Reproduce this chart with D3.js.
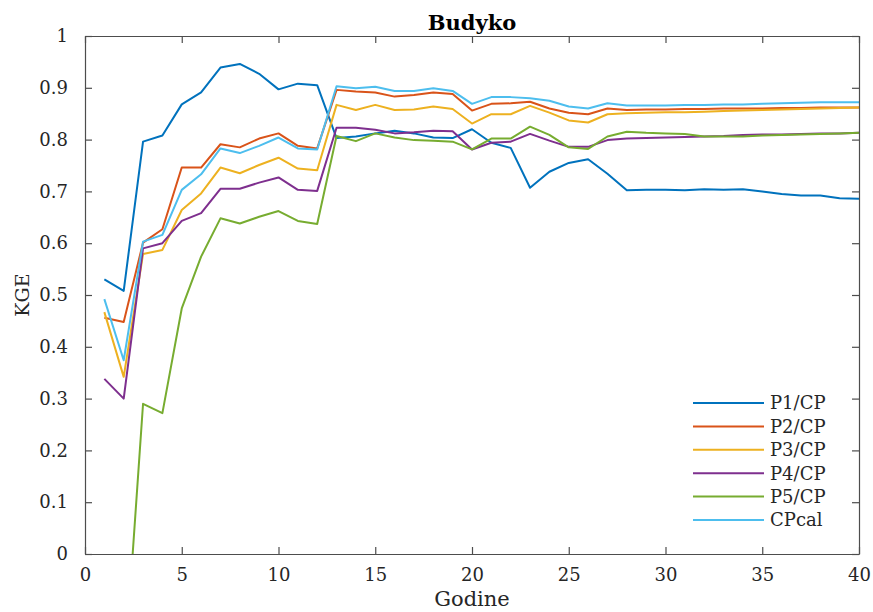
<!DOCTYPE html>
<html>
<head>
<meta charset="utf-8">
<script src="https://cdn.jsdelivr.net/npm/d3@7/dist/d3.min.js"></script>
<style>
  body { margin: 0; background: #fff; }
  svg { display: block; font-family: 'DejaVu Serif', serif; }
</style>
</head>
<body>
<div id="chart"></div>
<script>
'use strict';

// years (Godine) 1..40
const years = d3.range(1, 41);

const seriesNames = ['P1/CP', 'P2/CP', 'P3/CP', 'P4/CP', 'P5/CP', 'CPcal'];
const seriesColors = ['#0072BD', '#D95319', '#EDB120', '#7E2F8E', '#77AC30', '#4DBEEE'];

const p1 = [0.530, 0.508, 0.796, 0.808, 0.868, 0.891, 0.939, 0.946, 0.927, 0.897,
            0.908, 0.905, 0.803, 0.806, 0.812, 0.817, 0.812, 0.804, 0.803, 0.820,
            0.794, 0.784, 0.707, 0.738, 0.755, 0.762, 0.734, 0.702, 0.703, 0.703,
            0.702, 0.704, 0.703, 0.704, 0.700, 0.695, 0.692, 0.692, 0.687, 0.686];
const p2 = [0.456, 0.448, 0.601, 0.627, 0.746, 0.746, 0.791, 0.785, 0.802, 0.812,
            0.788, 0.783, 0.896, 0.893, 0.891, 0.883, 0.886, 0.891, 0.888, 0.856,
            0.869, 0.870, 0.873, 0.860, 0.852, 0.849, 0.860, 0.857, 0.858, 0.858,
            0.859, 0.859, 0.860, 0.860, 0.860, 0.861, 0.861, 0.862, 0.862, 0.862];
const p3 = [0.467, 0.342, 0.579, 0.587, 0.664, 0.696, 0.746, 0.735, 0.751, 0.765,
            0.744, 0.741, 0.867, 0.857, 0.867, 0.857, 0.858, 0.864, 0.859, 0.831,
            0.849, 0.849, 0.865, 0.852, 0.837, 0.833, 0.849, 0.851, 0.852, 0.853,
            0.853, 0.854, 0.855, 0.856, 0.857, 0.858, 0.859, 0.860, 0.861, 0.862];
const p4 = [0.338, 0.300, 0.590, 0.600, 0.643, 0.658, 0.705, 0.705, 0.717, 0.727,
            0.703, 0.701, 0.823, 0.823, 0.819, 0.812, 0.814, 0.817, 0.816, 0.781,
            0.794, 0.796, 0.811, 0.798, 0.786, 0.786, 0.799, 0.802, 0.803, 0.804,
            0.805, 0.806, 0.807, 0.809, 0.810, 0.810, 0.811, 0.812, 0.812, 0.813];
const p5 = [-0.300, -0.250, 0.290, 0.272, 0.474, 0.574, 0.648, 0.638, 0.651, 0.662,
            0.643, 0.637, 0.807, 0.797, 0.812, 0.804, 0.799, 0.798, 0.796, 0.781,
            0.802, 0.802, 0.825, 0.809, 0.785, 0.782, 0.806, 0.815, 0.813, 0.812,
            0.811, 0.806, 0.806, 0.806, 0.808, 0.809, 0.810, 0.811, 0.812, 0.813];
const cpcal = [0.492, 0.374, 0.603, 0.616, 0.703, 0.733, 0.783, 0.774, 0.788, 0.804,
               0.783, 0.781, 0.903, 0.899, 0.902, 0.894, 0.894, 0.899, 0.894, 0.869,
               0.882, 0.882, 0.880, 0.875, 0.864, 0.860, 0.870, 0.866, 0.866, 0.866,
               0.867, 0.867, 0.868, 0.868, 0.869, 0.870, 0.871, 0.872, 0.872, 0.872];

const xTicks = [0, 5, 10, 15, 20, 25, 30, 35, 40];
const yTicks = d3.range(0, 11).map(i => i / 10);

const series = [p1, p2, p3, p4, p5, cpcal];

const width = 873;
const height = 612;
const margin = {top: 36, right: 14, bottom: 58, left: 85};
const axisColor = '#4d4d4d';
const tickLen = 7;

const svg = d3.select('#chart')
  .append('svg')
  .attr('width', width)
  .attr('height', height);

const x = d3.scaleLinear()
  .domain([0, 40])
  .range([margin.left, width - margin.right]);

const y = d3.scaleLinear()
  .domain([0, 1])
  .range([height - margin.bottom, margin.top]);

// clip so the negative P5 start disappears below the x axis
svg.append('clipPath')
  .attr('id', 'plot-clip')
  .append('rect')
  .attr('x', x(0))
  .attr('y', y(1))
  .attr('width', x(40) - x(0))
  .attr('height', y(0) - y(1));

const line = d3.line()
  .x((d, i) => x(years[i]))
  .y(d => y(d));

svg.append('g')
  .attr('clip-path', 'url(#plot-clip)')
  .selectAll('path')
  .data(series)
  .join('path')
  .attr('d', line)
  .attr('fill', 'none')
  .attr('stroke', (d, i) => seriesColors[i])
  .attr('stroke-width', 2)
  .attr('stroke-linejoin', 'round');

//
// AXES - matlab style box with inward ticks on all four sides
//

function styleAxis(g) {
  g.selectAll('.domain').attr('stroke', axisColor).attr('stroke-width', 1.2);
  g.selectAll('.tick line').attr('stroke', axisColor).attr('stroke-width', 1.2);
  g.selectAll('.tick text')
    .attr('fill', '#262626')
    .attr('font-size', 18)
    .attr('font-family', "'DejaVu Serif', serif");
}

svg.append('g')
  .attr('transform', `translate(0,${y(0)})`)
  .call(d3.axisBottom(x).tickValues(xTicks).tickSize(-tickLen).tickPadding(14).tickSizeOuter(0))
  .call(styleAxis);

svg.append('g')
  .attr('transform', `translate(0,${y(1)})`)
  .call(d3.axisTop(x).tickValues(xTicks).tickSize(-tickLen).tickFormat('').tickSizeOuter(0))
  .call(styleAxis);

svg.append('g')
  .attr('transform', `translate(${x(0)},0)`)
  .call(d3.axisLeft(y).tickValues(yTicks).tickSize(-tickLen).tickPadding(17).tickSizeOuter(0)
    .tickFormat(d => d === 0 || d === 1 ? d3.format('d')(d) : d3.format('.1f')(d)))
  .call(styleAxis);

svg.append('g')
  .attr('transform', `translate(${x(40)},0)`)
  .call(d3.axisRight(y).tickValues(yTicks).tickSize(-tickLen).tickFormat('').tickSizeOuter(0))
  .call(styleAxis);

// axis labels and title
svg.append('text')
  .attr('x', (x(0) + x(40)) / 2)
  .attr('y', 30)
  .attr('text-anchor', 'middle')
  .attr('font-size', 21)
  .attr('font-weight', 'bold')
  .attr('fill', '#000')
  .text('Budyko');

svg.append('text')
  .attr('x', (x(0) + x(40)) / 2)
  .attr('y', 606)
  .attr('text-anchor', 'middle')
  .attr('font-size', 21)
  .attr('fill', '#262626')
  .text('Godine');

svg.append('text')
  .attr('transform', `translate(29,${(y(0) + y(1)) / 2}) rotate(-90)`)
  .attr('text-anchor', 'middle')
  .attr('font-size', 19)
  .attr('fill', '#262626')
  .text('KGE');

//
// LEGEND
//

const legend = svg.append('g')
  .attr('transform', 'translate(693,403)');

const legendRow = legend.selectAll('g')
  .data(seriesNames)
  .join('g')
  .attr('transform', (d, i) => `translate(0,${i * 23.4})`);

legendRow.append('line')
  .attr('x1', 0)
  .attr('x2', 71)
  .attr('stroke', (d, i) => seriesColors[i])
  .attr('stroke-width', 2);

legendRow.append('text')
  .attr('x', 77)
  .attr('dy', '0.35em')
  .attr('font-size', 18)
  .attr('fill', '#262626')
  .text(d => d);
</script>
</body>
</html>
